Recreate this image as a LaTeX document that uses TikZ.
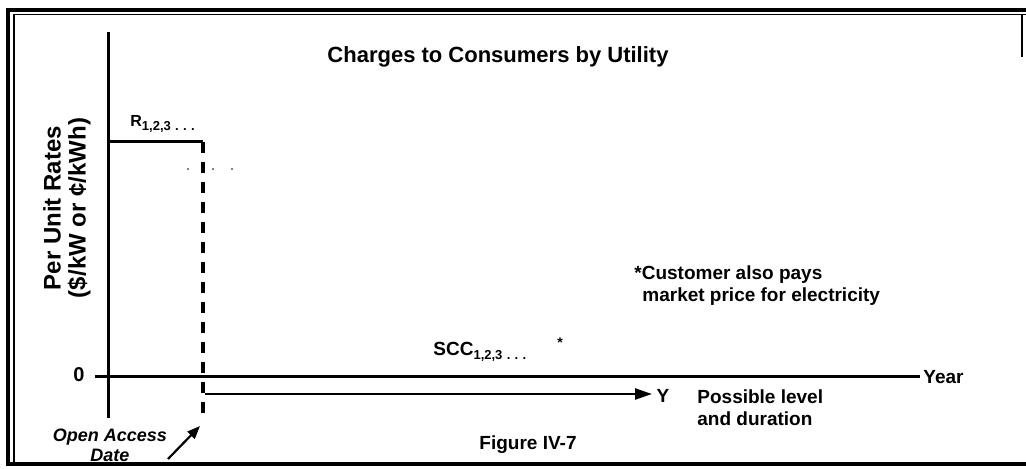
\documentclass[tikz,border=0pt]{standalone}
\usepackage{fontspec}
\setmainfont{Liberation Sans}
\usetikzlibrary{arrows.meta,positioning}

% small lowered index after a letter
\newcommand{\idx}[1]{\raisebox{-0.45ex}{\fontsize{6.5}{6.5}\selectfont #1}}

\begin{document}
\begin{tikzpicture}[x=0.5pt,y=-0.5pt,
  txt/.style={font=\bfseries\fontsize{9.5}{11}\selectfont,inner sep=0pt},
  axisline/.style={black,line width=1.5pt}]
  \useasboundingbox (0,0) rectangle (1026,469);

  % frame round the figure
  \draw[line width=1.6pt] (1026,10) -- (8,10) -- (8,464) -- (1026,464);
  \draw[line width=0.9pt] (1026,14.5) -- (14,14.5) -- (14,462);
  \draw[line width=0.8pt] (1022,14) -- (1022,57);

  % axes
  \coordinate (ytop) at (108,32);
  \coordinate (ybot) at (108,418);
  \coordinate (xleft) at (95,377);
  \coordinate (xright) at (920,377);
  \draw[axisline] (ytop) -- (ybot);
  \draw[axisline] (xleft) -- (xright);

  % rate level up to the open access date
  \coordinate (rstart) at (108,142);
  \coordinate (rend) at (203,142);
  \coordinate (dbot) at (203,418);
  \draw[axisline] (rstart) -- (rend);
  \draw[black,line width=1.6pt,dash pattern=on 5.5pt off 4.5pt] (rend) -- (dbot);
  \foreach \x in {188,213,232}
    \fill (\x,169) circle (0.8);

  % possible duration of the charge
  \coordinate (astart) at (205,394);
  \coordinate (aend) at (652,394);
  \draw[-{Triangle[length=8.5pt,width=5.5pt]},line width=1.2pt] (astart) -- (aend);

  \node[txt,font=\bfseries\fontsize{11}{12}\selectfont] (title) at (498,57) {Charges to Consumers by Utility};

  \node[txt,rotate=90,align=center,font=\bfseries\fontsize{12}{12.5}\selectfont] (ylabel) at (67,208)
    {Per Unit Rates\\(\$/kW or ¢/kWh)};

  \node[txt,anchor=west,font=\bfseries\fontsize{8}{9}\selectfont] (rlabel) at (130,124)
    {R\idx{1,2,3\,\,.\,\,.\,\,.}};

  \node[txt,anchor=east,font=\bfseries\fontsize{10}{11}\selectfont] (zero) at (85,375) {0};
  \node[txt,anchor=west] (year) at (923,377) {Year};

  \node[txt,anchor=west,font=\bfseries\fontsize{9.5}{11}\selectfont] (scc) at (433,352)
    {SCC\idx{1,2,3\,\,.\,\,.\,\,.}};
  \node[txt,font=\bfseries\fontsize{7}{8}\selectfont] (star) at (560,343) {*};

  \node[txt,anchor=north west,align=left] (note) at (634,265)
    {*Customer also pays\\\hspace*{4pt}market price for electricity};

  \node[txt] (ymark) at (663,396) {Y};
  \node[txt,anchor=north west,align=left] (possible) at (697,389)
    {Possible level\\and duration};

  \node[txt] (fig) at (528,445) {Figure IV-7};

  \node[txt,align=center,font=\bfseries\itshape\fontsize{9}{10}\selectfont] (oad) at (110,445)
    {Open Access\\Date};

  % pointer to the open access date
  \coordinate (ptail) at (168,459);
  \coordinate (ptip) at (200,426);
  \draw[-{Triangle[length=6.5pt,width=5pt]},line width=1.1pt] (ptail) -- (ptip);

\end{tikzpicture}
\end{document}
